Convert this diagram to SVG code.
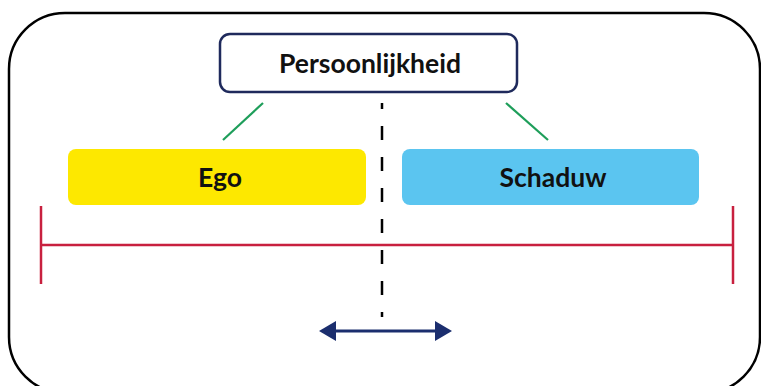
<svg xmlns="http://www.w3.org/2000/svg" width="761" height="386" viewBox="0 0 761 386">
<defs>
<style>
.lbl{font-family:Lato,"Open Sans","Liberation Sans",sans-serif;font-weight:bold;font-size:26.5px;fill:#111111;text-anchor:middle}
.green{stroke:#1E9E5A;stroke-width:2.2;fill:none}
.red{stroke:#C8203F;stroke-width:2.5;fill:none}
.head{fill:#1B2E6E}
</style>
</defs>
<rect width="761" height="386" fill="#ffffff"/>
<rect id="frame" x="9" y="13" width="751" height="380" rx="56" fill="none" stroke="#000000" stroke-width="2.5"/>
<g id="persoonlijkheid">
<rect x="220" y="34" width="297" height="58" rx="10" fill="#ffffff" stroke="#1F2A5C" stroke-width="2.5"/>
<text class="lbl" x="370" y="73">Persoonlijkheid</text>
</g>
<g id="ego">
<rect x="68" y="149" width="298" height="56" rx="8" fill="#FDE800"/>
<text class="lbl" x="220" y="187">Ego</text>
</g>
<g id="schaduw">
<rect x="402" y="149" width="297" height="56" rx="8" fill="#5BC5F0"/>
<text class="lbl" x="553" y="187">Schaduw</text>
</g>
<g id="connectors">
<line class="green" x1="263" y1="103" x2="223" y2="140"/>
<line class="green" x1="506" y1="103" x2="548" y2="140"/>
<line x1="382" y1="103" x2="382" y2="317" stroke="#000000" stroke-width="2.5" stroke-dasharray="14 17" stroke-dashoffset="8"/>
<line class="red" x1="41" y1="245" x2="733" y2="245"/>
<line class="red" x1="41" y1="206" x2="41" y2="284"/>
<line class="red" x1="733" y1="206" x2="733" y2="284"/>
<line x1="334" y1="331" x2="437" y2="331" stroke="#1B2E6E" stroke-width="3"/>
<polygon class="head" points="319,331 336,321 336,341"/>
<polygon class="head" points="452,331 435,321 435,341"/>
</g>
</svg>
